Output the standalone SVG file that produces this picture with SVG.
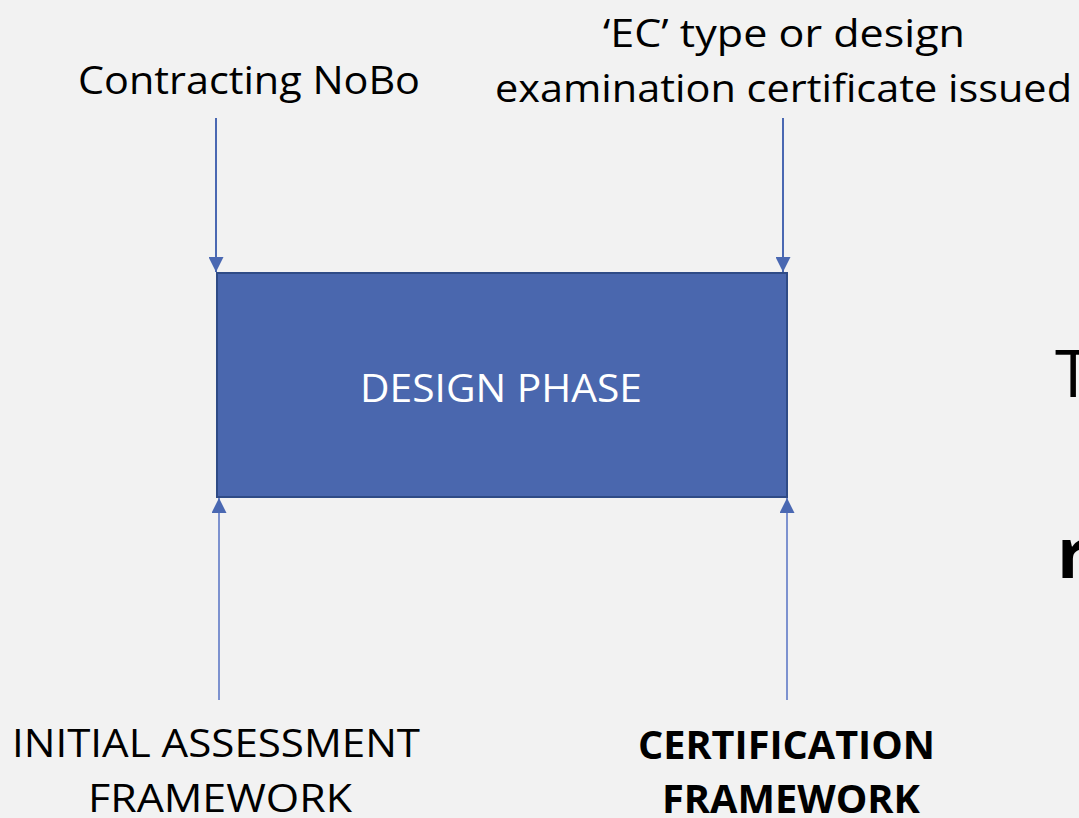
<svg xmlns="http://www.w3.org/2000/svg" width="1079" height="818" viewBox="0 0 1079 818">
<style>
.t{font-family:"Open Sans","Liberation Sans",sans-serif;font-size:39px;fill:#000}
.b{font-weight:bold}
.w{fill:#fff}
.ln{stroke:#4a68b2;stroke-width:2;fill:none}
.ln2{stroke:#7d92cf;stroke-width:2;fill:none}
</style>
<defs>
<marker id="ah" viewBox="0 0 10 10" refX="10" refY="5" markerWidth="7.5" markerHeight="7.5" markerUnits="strokeWidth" orient="auto"><path d="M0,0 L10,5 L0,10 z" fill="#4a68b2"/></marker>
</defs>
<rect width="1079" height="818" fill="#f2f2f2"/>
<g id="connectors">
<line class="ln" x1="216" y1="118" x2="216" y2="272" marker-end="url(#ah)"/>
<line class="ln" x1="783" y1="118" x2="783" y2="272" marker-end="url(#ah)"/>
<line class="ln2" x1="219" y1="700" x2="219" y2="498" marker-end="url(#ah)"/>
<line class="ln2" x1="787" y1="700" x2="787" y2="498" marker-end="url(#ah)"/>
</g>
<g id="design-phase">
<rect x="217" y="273" width="570" height="224" fill="#4a67ae" stroke="#2f4b86" stroke-width="2"/>
<text class="t w" x="360" y="402" textLength="282" lengthAdjust="spacingAndGlyphs">DESIGN PHASE</text>
</g>
<g id="contracting-nobo">
<text class="t" x="78" y="94" textLength="342" lengthAdjust="spacingAndGlyphs">Contracting NoBo</text>
</g>
<g id="ec-certificate">
<text class="t" x="603" y="47" textLength="362" lengthAdjust="spacingAndGlyphs">‘EC’ type or design</text>
<text class="t" x="495" y="102" textLength="577" lengthAdjust="spacingAndGlyphs">examination certificate issued</text>
</g>
<g id="initial-assessment">
<text class="t" x="12" y="757" textLength="408" lengthAdjust="spacingAndGlyphs">INITIAL ASSESSMENT</text>
<text class="t" x="88" y="812" textLength="264" lengthAdjust="spacingAndGlyphs">FRAMEWORK</text>
</g>
<g id="certification-framework">
<text class="t b" x="638" y="759" textLength="297" lengthAdjust="spacingAndGlyphs">CERTIFICATION</text>
<text class="t b" x="662" y="813" textLength="258" lengthAdjust="spacingAndGlyphs">FRAMEWORK</text>
</g>
<g id="cut-text">
<text class="t" x="1055" y="397" style="font-size:66px">T</text>
<text class="t b" x="1057" y="578" style="font-size:70px">r</text>
</g>
</svg>
